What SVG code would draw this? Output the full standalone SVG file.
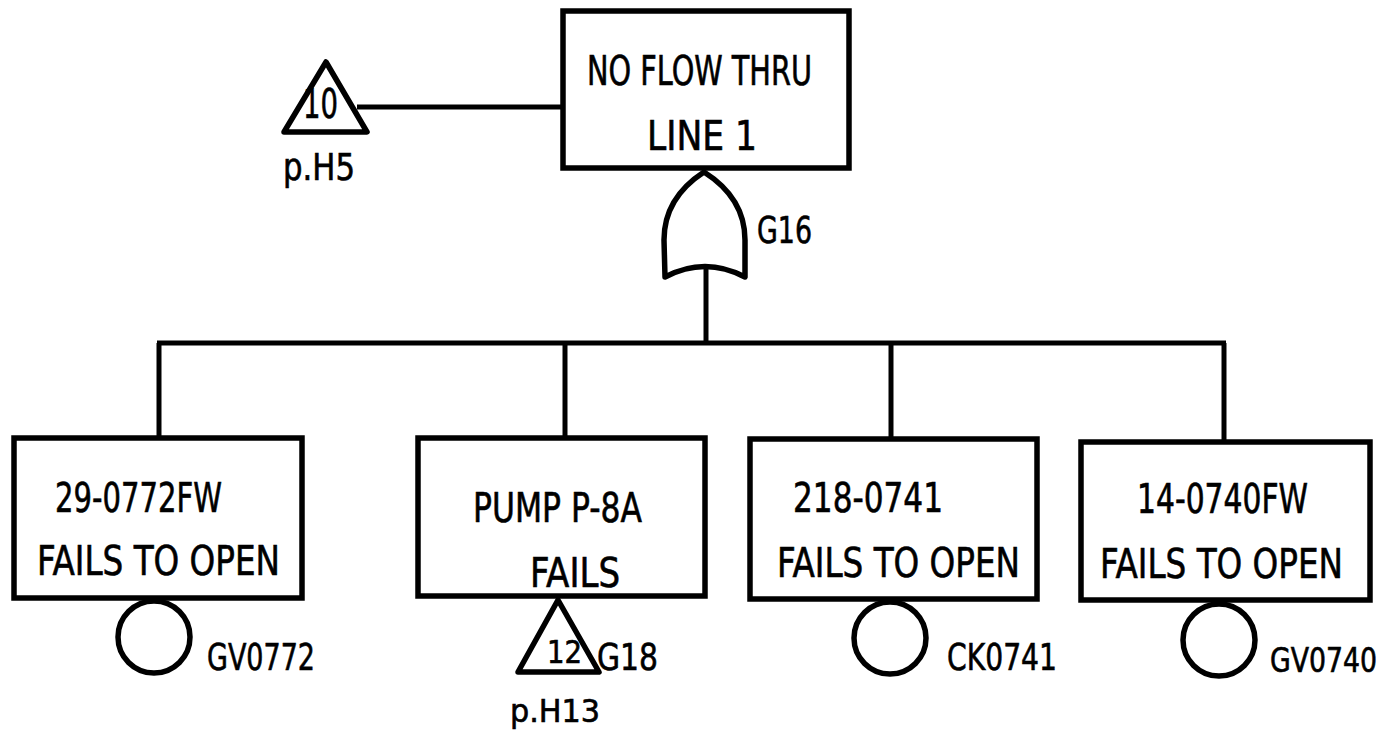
<svg xmlns="http://www.w3.org/2000/svg" width="1391" height="731" viewBox="0 0 1391 731">
<style>
.box{fill:#fff;stroke:#000;stroke-width:5.5}
.sym{fill:#fff;stroke:#000;stroke-width:5.5;stroke-linejoin:round}
.ln{fill:none;stroke:#000;stroke-width:5}
.t,.s,.m,.e{font-family:"DejaVu Sans Condensed","DejaVu Sans",sans-serif;fill:#000;stroke:#000;stroke-width:0.6}
.t{font-size:41px}
.s{font-size:37px}
.m{font-size:32px}
.e{font-size:33px}
</style>
<rect width="1391" height="731" fill="#fff"/>
<g id="connectors">
<line class="ln" x1="357" y1="107" x2="562" y2="107"/>
<line class="ln" x1="706" y1="265" x2="706" y2="343"/>
<line class="ln" x1="157" y1="343" x2="1226" y2="343"/>
<line class="ln" x1="159" y1="343" x2="159" y2="438"/>
<line class="ln" x1="565" y1="343" x2="565" y2="438"/>
<line class="ln" x1="891" y1="343" x2="891" y2="438"/>
<line class="ln" x1="1224" y1="343" x2="1224" y2="441"/>
</g>
<g id="top">
<rect class="box" x="563" y="11" width="286" height="157"/>
<text class="t" x="587" y="85" textLength="225" lengthAdjust="spacingAndGlyphs">NO FLOW THRU</text>
<text class="t" x="647" y="150" textLength="110" lengthAdjust="spacingAndGlyphs">LINE 1</text>
</g>
<g id="transfer-10">
<path class="sym" d="M326,62 L367,132 L284,132 Z"/>
<text class="t" x="303" y="118" textLength="35" lengthAdjust="spacingAndGlyphs">10</text>
<text class="s" x="283" y="180" textLength="72" lengthAdjust="spacingAndGlyphs">p.H5</text>
</g>
<g id="gate-g16">
<path class="sym" d="M704,172 Q664,198 664,240 L665,277 Q705,256 745,277 L745,240 Q745,198 704,172 Z"/>
<text class="s" x="757" y="243" textLength="55" lengthAdjust="spacingAndGlyphs">G16</text>
</g>
<g id="event-1">
<rect class="box" x="14" y="438" width="288" height="160"/>
<text class="t" x="55" y="512" textLength="167" lengthAdjust="spacingAndGlyphs">29-0772FW</text>
<text class="t" x="37" y="575" textLength="243" lengthAdjust="spacingAndGlyphs">FAILS TO OPEN</text>
<circle class="sym" cx="154" cy="637" r="36"/>
<text class="s" x="207" y="670" textLength="108" lengthAdjust="spacingAndGlyphs">GV0772</text>
</g>
<g id="event-2">
<rect class="box" x="418" y="438" width="287" height="158"/>
<text class="t" x="473" y="522" textLength="169" lengthAdjust="spacingAndGlyphs">PUMP P-8A</text>
<text class="t" x="530" y="587" textLength="90" lengthAdjust="spacingAndGlyphs">FAILS</text>
<path class="sym" d="M558,600 L599,672 L518,672 Z"/>
<text class="m" x="547" y="663" textLength="35" lengthAdjust="spacingAndGlyphs">12</text>
<text class="s" x="597" y="670" textLength="61" lengthAdjust="spacingAndGlyphs">G18</text>
<text class="m" x="510" y="722" textLength="90" lengthAdjust="spacingAndGlyphs">p.H13</text>
</g>
<g id="event-3">
<rect class="box" x="750" y="439" width="287" height="160"/>
<text class="t" x="793" y="512" textLength="150" lengthAdjust="spacingAndGlyphs">218-0741</text>
<text class="t" x="777" y="577" textLength="243" lengthAdjust="spacingAndGlyphs">FAILS TO OPEN</text>
<circle class="sym" cx="890" cy="638" r="36"/>
<text class="s" x="947" y="670" textLength="110" lengthAdjust="spacingAndGlyphs">CK0741</text>
</g>
<g id="event-4">
<rect class="box" x="1081" y="442" width="289" height="158"/>
<text class="t" x="1137" y="513" textLength="171" lengthAdjust="spacingAndGlyphs">14-0740FW</text>
<text class="t" x="1100" y="578" textLength="243" lengthAdjust="spacingAndGlyphs">FAILS TO OPEN</text>
<circle class="sym" cx="1219" cy="640" r="36"/>
<text class="e" x="1270" y="672" textLength="107" lengthAdjust="spacingAndGlyphs">GV0740</text>
</g>
</svg>
